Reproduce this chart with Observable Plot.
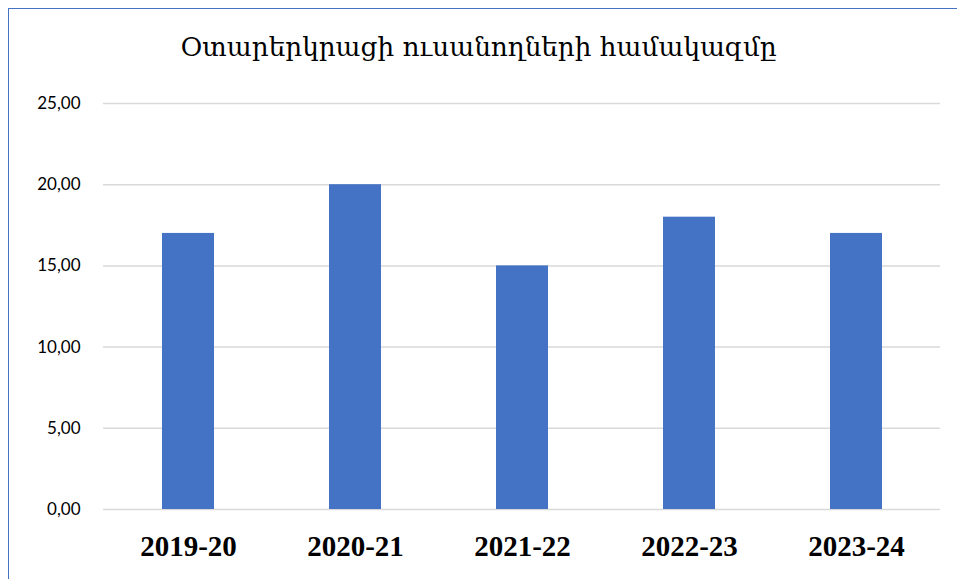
<!DOCTYPE html>
<html>
<head>
<meta charset="utf-8">
<script src="https://cdn.jsdelivr.net/npm/d3@7"></script>
<script src="https://cdn.jsdelivr.net/npm/@observablehq/plot@0.6"></script>
<style>
  html, body { margin: 0; padding: 0; background: #fff; }
  #wrap { position: relative; width: 957px; height: 579px; overflow: hidden; }
  #frame { position: absolute; left: 8px; top: 8px; width: 960px; height: 600px; border-left: 1.5px solid #4472C4; border-top: 1.5px solid #4472C4; box-sizing: border-box; }
  #title { position: absolute; left: 0; width: 957px; top: 32px; text-align: center; font-family: "DejaVu Serif", serif; font-size: 26.3px; color: #000; }
  #chart { position: absolute; left: 0; top: 0; }
</style>
</head>
<body>
<div id="wrap">
  <div id="frame"></div>
  <div id="chart"></div>
  <div id="title">Օտարերկրացի ուսանողների համակազմը</div>
</div>
<script>
const years = ["2019-20", "2020-21", "2021-22", "2022-23", "2023-24"];
const students = [17, 20, 15, 18, 17];
const yTicks = [0, 5, 10, 15, 20, 25];

const data = years.map((y, i) => ({year: y, value: students[i]}));

const chart = Plot.plot({
  width: 957,
  height: 579,
  marginLeft: 103,
  marginRight: 17,
  marginTop: 103,
  marginBottom: 70,
  style: {background: "transparent", overflow: "visible"},
  x: {domain: years, paddingInner: 0.69, paddingOuter: 0.345, label: null},
  y: {domain: [0, 25], label: null},
  marks: [
    Plot.gridY(yTicks, {stroke: "#d9d9d9", strokeOpacity: 1, strokeWidth: 1.5}),
    Plot.barY(data, {x: "year", y: "value", fill: "#4472C4"}),
    Plot.axisY(yTicks, {tickSize: 0, tickPadding: 23, tickFormat: d => d.toFixed(2).replace(".", ","), fontSize: 17, fontFamily: "Lato, sans-serif", fill: "#000"}),
    Plot.axisX({tickSize: 0, tickPadding: 26, fontSize: 29, fontWeight: "bold", fontFamily: "Liberation Serif, serif", fill: "#000"})
  ]
});
document.getElementById("chart").appendChild(chart);
</script>
</body>
</html>
